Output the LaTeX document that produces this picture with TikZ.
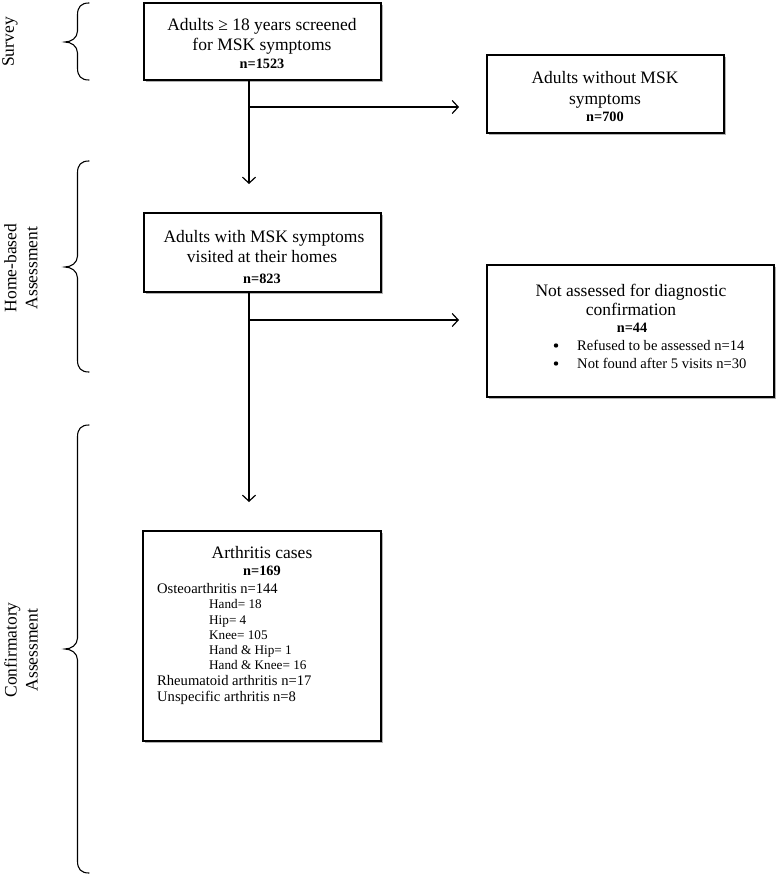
\documentclass[tikz,border=0pt]{standalone}
\usepackage{fontspec}
\setmainfont{Liberation Serif}
\usetikzlibrary{arrows.meta,shadows}
\newcommand\BigTxt{\fontsize{17.5}{21}\selectfont}
\newcommand\Nb{\fontsize{14.3}{17}\selectfont\bfseries}
\newcommand\MidTxt{\fontsize{14.6}{17}\selectfont}
\newcommand\SmTxt{\fontsize{13.2}{16}\selectfont}
\newcommand\mybrace[3]{%
  \draw[bracestyle] (89,#1) .. controls (81,#1) and (77.5,#1+4) .. (77.5,#1+12)
    -- (77.5,#2-11) .. controls (77.5,#2-4) and (71,#2) .. (65,#2)
    .. controls (71,#2) and (77.5,#2+4) .. (77.5,#2+11)
    -- (77.5,#3-12) .. controls (77.5,#3-4) and (81,#3) .. (89,#3);}
\begin{document}
\begin{tikzpicture}[x=1pt,y=-1pt,
  box/.style={draw=black,line width=1.7pt,fill=white,inner sep=0pt,
    drop shadow={shadow xshift=1.5pt,shadow yshift=-2pt,fill=black!30,opacity=1}},
  conn/.style={line width=1.2pt,-{Straight Barb[length=6pt,width=13pt,line width=1.2pt]}},
  bracestyle/.style={line width=1.1pt,line cap=round},
  txt/.style={inner sep=0pt,anchor=base},
  lab/.style={inner sep=0pt,rotate=90,align=center,font=\BigTxt}]
\useasboundingbox (0,0) rectangle (777,877);
% boxes
\node[box,minimum width=237pt,minimum height=77pt] (b1) at (262.5,41.5) {};
\node[box,minimum width=237pt,minimum height=78pt] (b2) at (605.5,94) {};
\node[box,minimum width=237pt,minimum height=79pt] (b3) at (262.5,252.5) {};
\node[box,minimum width=287pt,minimum height=132pt] (b4) at (630.5,331) {};
\node[box,minimum width=238pt,minimum height=210pt] (b5) at (262,636) {};
% texts box 1
\node[txt,font=\BigTxt] (t1a) at (262,31) {Adults ≥ 18 years screened};
\node[txt,font=\BigTxt] (t1b) at (262,51) {for MSK symptoms};
\node[txt,font=\Nb] (t1c) at (262,69) {n=1523};
% box 2
\node[txt,font=\BigTxt] (t2a) at (605,84) {Adults without MSK};
\node[txt,font=\BigTxt] (t2b) at (605,105) {symptoms};
\node[txt,font=\Nb] (t2c) at (605,122) {n=700};
% box 3
\node[txt,font=\BigTxt] (t3a) at (264,243) {Adults with MSK symptoms};
\node[txt,font=\BigTxt] (t3b) at (262,262) {visited at their homes};
\node[txt,font=\Nb] (t3c) at (262,283) {n=823};
% box 4
\node[txt,font=\BigTxt] (t4a) at (631,296) {Not assessed for diagnostic};
\node[txt,font=\BigTxt] (t4b) at (631,315) {confirmation};
\node[txt,font=\Nb] (t4c) at (632,332) {n=44};
\node[txt,font=\MidTxt,anchor=base west] (t4d) at (577,350) {Refused to be assessed n=14};
\node[txt,font=\MidTxt,anchor=base west] (t4e) at (577,368) {Not found after 5 visits n=30};
\fill (t4d.base west) ++(-21,-4.5) circle (2.2pt);
\fill (t4e.base west) ++(-21,-4.5) circle (2.2pt);
% box 5
\node[txt,font=\BigTxt] (t5a) at (262,558) {Arthritis cases};
\node[txt,font=\Nb] (t5b) at (262,575) {n=169};
\node[txt,font=\MidTxt,anchor=base west] (t5c) at (157,593) {Osteoarthritis n=144};
\node[txt,font=\SmTxt,anchor=base west] (t5d) at (209,608) {Hand= 18};
\node[txt,font=\SmTxt,anchor=base west] (t5e) at (209,624) {Hip= 4};
\node[txt,font=\SmTxt,anchor=base west] (t5f) at (209,639) {Knee= 105};
\node[txt,font=\SmTxt,anchor=base west] (t5g) at (209,654) {Hand \& Hip= 1};
\node[txt,font=\SmTxt,anchor=base west] (t5h) at (209,669) {Hand \& Knee= 16};
\node[txt,font=\MidTxt,anchor=base west] (t5i) at (157,685) {Rheumatoid arthritis n=17};
\node[txt,font=\MidTxt,anchor=base west] (t5j) at (157,701) {Unspecific arthritis n=8};
% connector points
\coordinate (d1) at (249,184);
\coordinate (j1) at (249,107);
\coordinate (e1) at (459,107);
\coordinate (d2) at (249,502);
\coordinate (j2) at (249,320);
\coordinate (e2) at (459,320);
\draw[conn] (b1.south -| d1) -- (d1);
\draw[conn] (j1) -- (e1);
\draw[conn] (b3.south -| d2) -- (d2);
\draw[conn] (j2) -- (e2);
% braces
\mybrace{3}{42}{80}
\mybrace{161}{267}{372}
\mybrace{425}{649}{873}
% side labels
\node[lab] (s1) at (10,42) {Survey};
\node[lab] (s2) at (21,268) {Home-based\\Assessment};
\node[lab] (s3) at (21,650) {Confirmatory\\Assessment};
\end{tikzpicture}
\end{document}
